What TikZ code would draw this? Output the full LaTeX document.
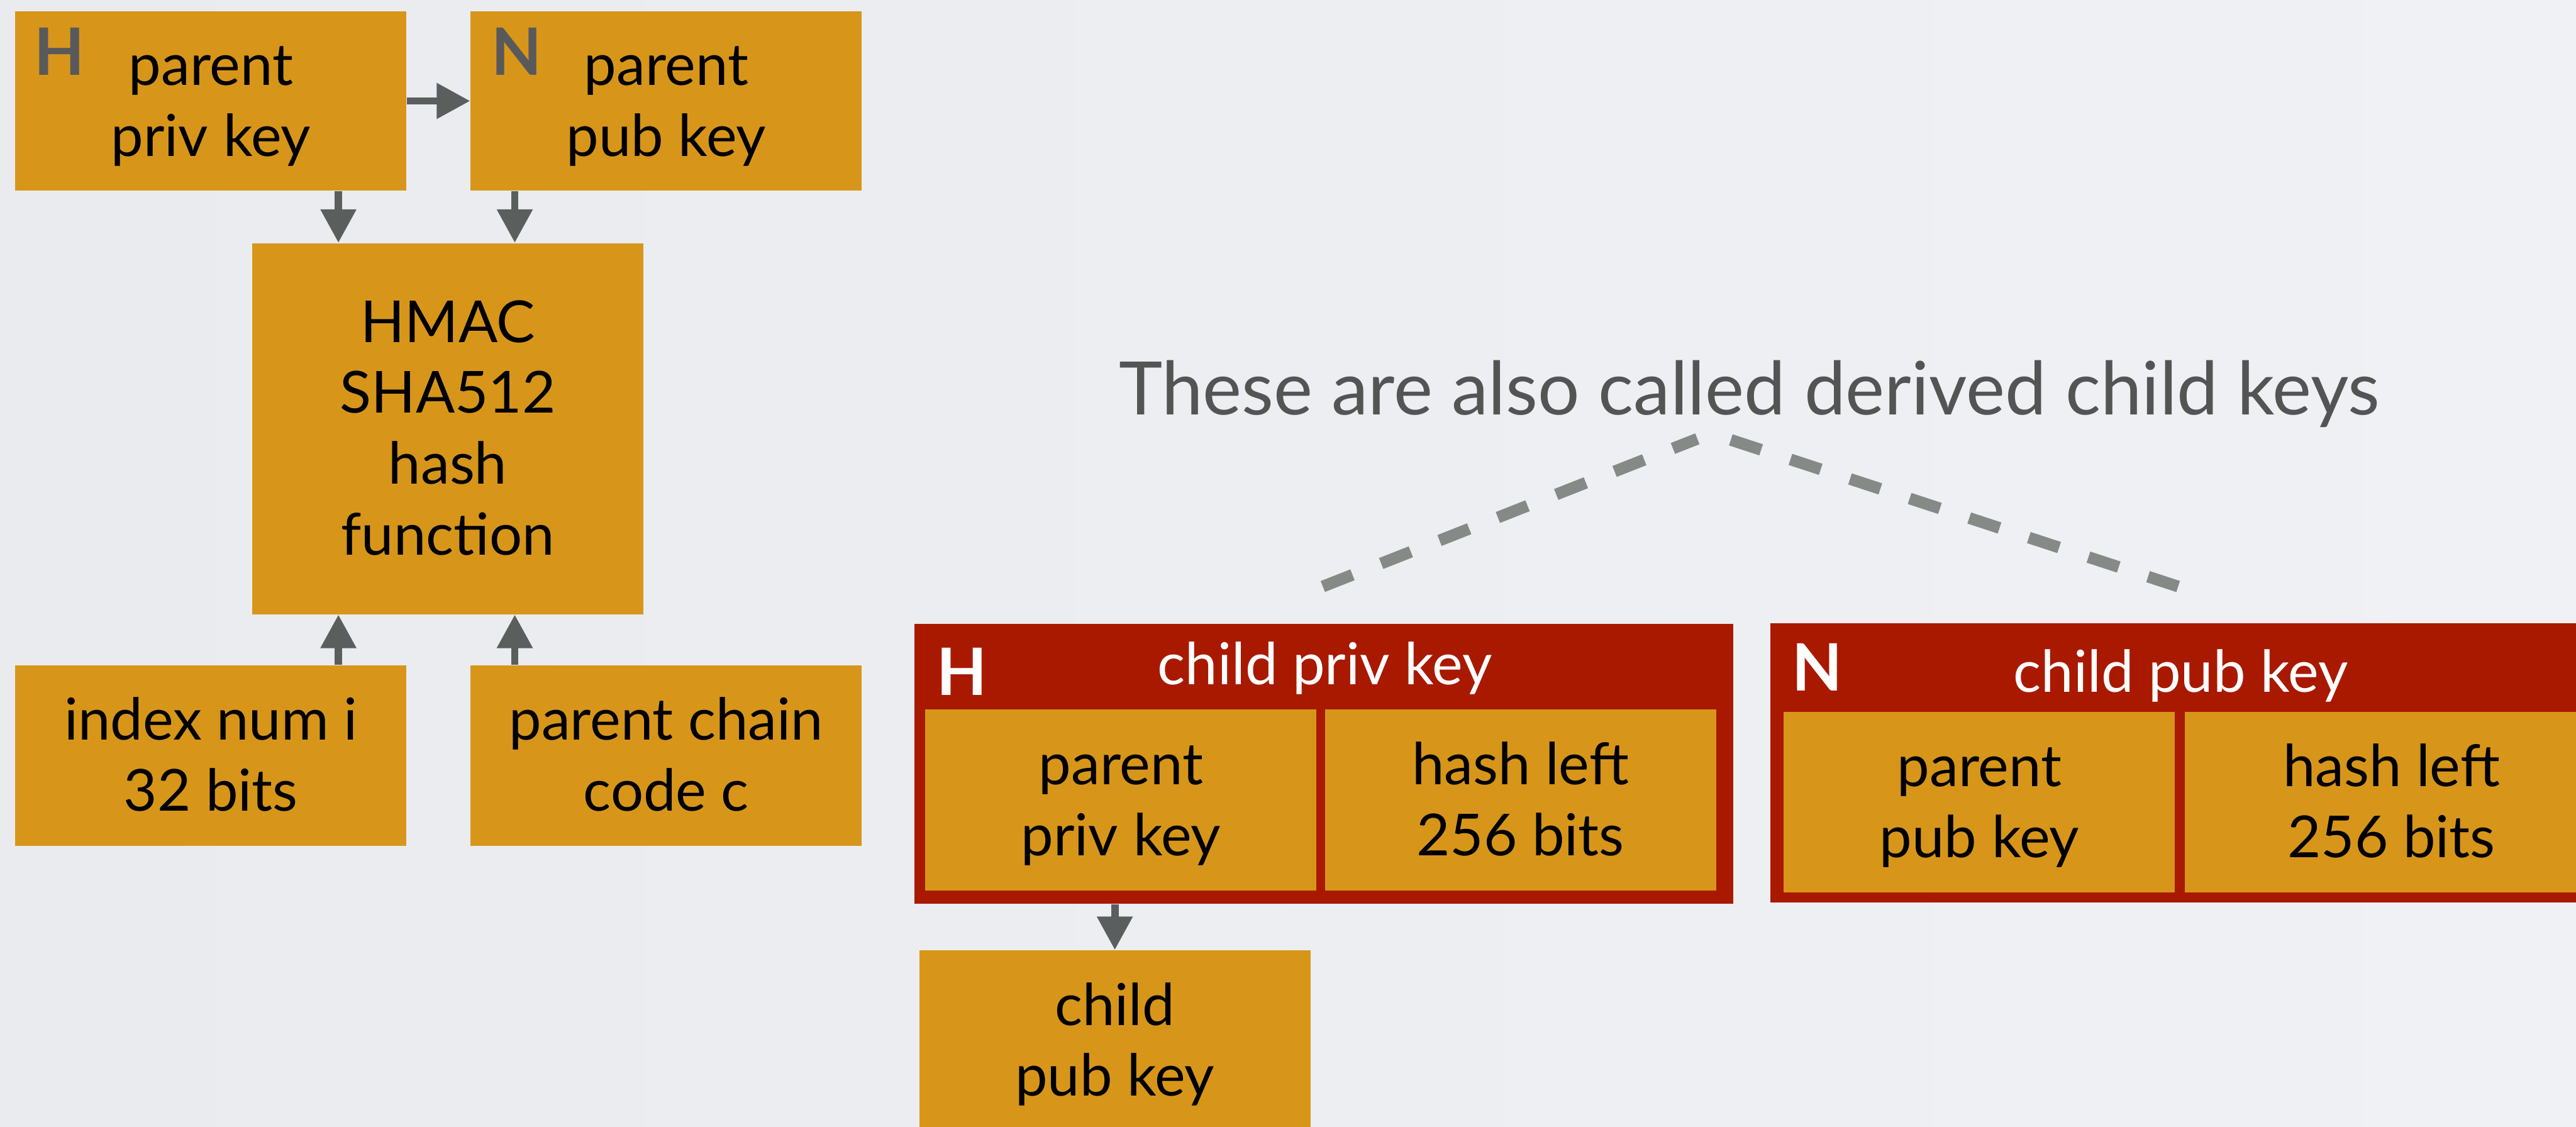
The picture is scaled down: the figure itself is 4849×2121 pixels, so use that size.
\documentclass[tikz,border=0pt]{standalone}
\usepackage{fontspec}
\setmainfont{Lato}
\usetikzlibrary{arrows.meta}

\definecolor{paperL}{HTML}{E9EBEE}
\definecolor{paperR}{HTML}{F0F1F4}
\definecolor{gold}{HTML}{D7961A}
\definecolor{brick}{HTML}{A91900}
\definecolor{arrowgrey}{HTML}{5A5F5E}
\definecolor{dashgrey}{HTML}{858A87}
\definecolor{titlegrey}{HTML}{545454}
\definecolor{badgegrey}{HTML}{58595B}

\newcommand{\boxfont}{\fontsize{31}{38}\selectfont}
% struts that sit the text block a little below the box centre
\newcommand{\txt}[1]{\rule{0pt}{0.95cm}#1\rule[-0.2cm]{0pt}{0pt}}

\tikzset{
  keybox/.style={fill=gold, inner sep=0pt, minimum width=7.36cm,
    minimum height=3.4cm, align=center, font=\boxfont},
  childbox/.style={fill=brick, inner sep=0pt},
  badge/.style={inner sep=0pt, font=\fontsize{35}{35}\selectfont\bfseries},
  header/.style={inner sep=0pt, anchor=base, text=white, font=\boxfont},
  arr/.style={draw=arrowgrey, line width=0.14cm,
    -{Triangle[length=0.63cm, width=0.64cm]}},
  dashline/.style={draw=dashgrey, line width=0.22cm,
    dash pattern=on 0.6cm off 0.58cm},
}

\begin{document}
\begin{tikzpicture}[x=0.01cm, y=-0.01cm]
\useasboundingbox (0,0) rectangle (4849,2121);
\clip (0,0) rectangle (4849,2121);
\shade[left color=paperL, right color=paperR] (0,0) rectangle (4849,2121);

% parent keys and hash inputs
\node[keybox, minimum height=3.38cm] (ppriv) at (397,190) {\txt{parent\\priv key}};
\node[keybox, minimum height=3.38cm] (ppub) at (1254,190) {\txt{parent\\pub key}};
\node[badge, text=badgegrey] (hp) at (112,97) {H};
\node[badge, text=badgegrey] (np) at (973,97) {N};

\node[keybox, minimum height=6.98cm] (hmac) at (843,807) {\txt{HMAC\\SHA512\\hash\\function}};
\node[keybox] (idx) at (397,1422) {\txt{index num i\\32 bits}};
\node[keybox] (chain) at (1254,1422) {\txt{parent chain\\code c}};

\coordinate (colA) at (637,0);
\coordinate (colB) at (969,0);
\draw[arr] (ppriv.east) -- (ppub.west);
\draw[arr] (ppriv.south -| colA) -- (hmac.north -| colA);
\draw[arr] (ppub.south -| colB) -- (hmac.north -| colB);
\draw[arr] (idx.north -| colA) -- (hmac.south -| colA);
\draw[arr] (chain.north -| colB) -- (hmac.south -| colB);

% hardened child private key
\node[childbox, minimum width=15.4cm, minimum height=5.26cm] (red1) at (2492,1438) {};
\node[keybox, minimum width=7.36cm] (r1a) at (2110,1506) {\txt{parent\\priv key}};
\node[keybox, minimum width=7.36cm] (r1b) at (2862,1506) {\txt{hash left\\256 bits}};
\node[badge, text=white] (hc) at (1811,1264.5) {H};
\node[header] (t1) at (2494,1289) {child priv key};

\node[keybox] (cpub) at (2098.5,1959) {\txt{child\\pub key}};
\draw[arr] (red1.south -| cpub.north) -- (cpub.north);

% normal child public key
\node[childbox, minimum width=15.67cm, minimum height=5.26cm] (red2) at (4116.5,1436) {};
\node[keybox, minimum width=7.36cm] (r2a) at (3726,1510) {\txt{parent\\pub key}};
\node[keybox, minimum width=7.77cm] (r2b) at (4501.5,1510) {\txt{hash left\\256 bits}};
\node[badge, text=white] (nc) at (3421,1256.5) {N};
\node[header] (t2) at (4105,1303) {child pub key};

% caption and its bracket
\node[inner sep=0pt, anchor=base, text=titlegrey, font=\fontsize{39.5}{45}\selectfont]
  (title) at (3293,781) {These are also called derived child keys};
\coordinate (dl0) at (2490,1104);
\coordinate (dl1) at (3195,826);
\coordinate (dr0) at (3258,828);
\coordinate (dr1) at (4100,1104);
\draw[dashline] (dl0) -- (dl1);
\draw[dashline] (dr0) -- (dr1);
\end{tikzpicture}
\end{document}
